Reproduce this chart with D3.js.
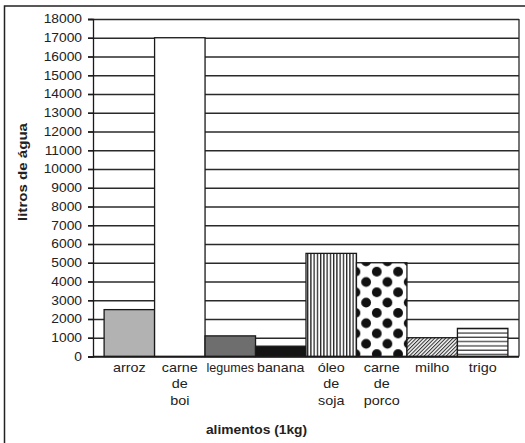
<!DOCTYPE html>
<html>
<head>
<meta charset="utf-8">
<script src="https://cdn.jsdelivr.net/npm/d3@7/dist/d3.min.js"></script>
<style>
  html, body { margin: 0; padding: 0; background: #fff; }
  svg { display: block; }
  text { font-family: "Liberation Sans", Arial, sans-serif; fill: #222; }
</style>
</head>
<body>
<svg id="chart" width="525" height="443"></svg>
<script>
// ---- data ----
const categories = ["arroz", "carne de boi", "legumes", "banana", "óleo de soja", "carne de porco", "milho", "trigo"];
const labelLines = [["arroz"], ["carne", "de", "boi"], ["legumes"], ["banana"], ["óleo", "de", "soja"], ["carne", "de", "porco"], ["milho"], ["trigo"]];
const values = [2500, 17000, 1100, 550, 5500, 5000, 1000, 1500];
const yTicks = [0, 1000, 2000, 3000, 4000, 5000, 6000, 7000, 8000, 9000, 10000, 11000, 12000, 13000, 14000, 15000, 16000, 17000, 18000];
const yTitle = "litros de água";
const xTitle = "alimentos (1kg)";

// ---- styles ----
const fills = ["#b2b2b2", "#ffffff", "#6e6e6e", "#141414", "url(#pVert)", "url(#pDots)", "url(#pDiag)", "url(#pHoriz)"];
const SX = 1.15; // horizontal text stretch

const svg = d3.select("#chart");
const pLeft = 93, pRight = 519, pTop = 19, pBottom = 356.5;

const x = d3.scaleBand().domain(categories).range([pLeft, pRight]).paddingInner(0).paddingOuter(0.22);
const y = d3.scaleLinear().domain([0, 18000]).range([pBottom, pTop]);

// ---- patterns ----
const defs = svg.append("defs");
// vertical stripes
const pv = defs.append("pattern").attr("id", "pVert").attr("patternUnits", "userSpaceOnUse")
  .attr("width", 3.25).attr("height", 10).attr("x", x("óleo de soja") + 1);
pv.append("rect").attr("width", 3.25).attr("height", 10).attr("fill", "#fff");
pv.append("rect").attr("x", 0).attr("width", 1.3).attr("height", 10).attr("fill", "#222");
// dots
const dx = 21.3, dyy = 20.6;
const pd = defs.append("pattern").attr("id", "pDots").attr("patternUnits", "userSpaceOnUse")
  .attr("width", dx).attr("height", dyy).attr("x", x("carne de porco") - 1).attr("y", 271.7);
pd.append("rect").attr("width", dx).attr("height", dyy).attr("fill", "#fff");
[[0, 0], [dx, 0], [0, dyy], [dx, dyy], [dx / 2, dyy / 2]].forEach(([cx, cy]) => {
  pd.append("circle").attr("cx", cx).attr("cy", cy).attr("r", 4.9).attr("fill", "#111");
});
// diagonal hatch
const pg = defs.append("pattern").attr("id", "pDiag").attr("patternUnits", "userSpaceOnUse")
  .attr("width", 2.6).attr("height", 10).attr("patternTransform", "rotate(45)");
pg.append("rect").attr("width", 2.6).attr("height", 10).attr("fill", "#f2f2f2");
pg.append("rect").attr("width", 1).attr("height", 10).attr("fill", "#2e2e2e");
// horizontal stripes
const ph = defs.append("pattern").attr("id", "pHoriz").attr("patternUnits", "userSpaceOnUse")
  .attr("width", 10).attr("height", 4.3).attr("y", y(values[7]) + 1);
ph.append("rect").attr("width", 10).attr("height", 4.3).attr("fill", "#fff");
ph.append("rect").attr("y", 3).attr("width", 10).attr("height", 1.3).attr("fill", "#444");

// ---- outer frame ----
svg.append("rect").attr("x", 4.5).attr("y", 6).attr("width", 700).attr("height", 700)
  .attr("fill", "none").attr("stroke", "#222").attr("stroke-width", 1.5);

// ---- gridlines ----
const grid = svg.append("g").attr("transform", `translate(${pLeft - 5},0)`)
  .call(d3.axisLeft(y).tickValues(yTicks).tickSize(-(pRight - pLeft + 5)).tickFormat(""));
grid.select(".domain").remove();
grid.selectAll(".tick line").attr("stroke", "#2a2a2a").attr("stroke-width", 1.3);

// ---- bars ----
svg.append("g").selectAll("rect").data(categories).join("rect")
  .attr("x", d => x(d))
  .attr("y", (d, i) => y(values[i]))
  .attr("width", x.bandwidth())
  .attr("height", (d, i) => y(0) - y(values[i]))
  .attr("fill", (d, i) => fills[i])
  .attr("stroke", "#1a1a1a").attr("stroke-width", 1.3);

// ---- plot frame (right edge, baseline) ----
svg.append("line").attr("x1", pRight).attr("x2", pRight).attr("y1", pTop).attr("y2", pBottom)
  .attr("stroke", "#2a2a2a").attr("stroke-width", 1.3);
svg.append("line").attr("x1", pLeft).attr("x2", pRight).attr("y1", pBottom).attr("y2", pBottom)
  .attr("stroke", "#1a1a1a").attr("stroke-width", 1.3);

// ---- y axis ----
const yAxis = svg.append("g").attr("transform", `translate(${pLeft},0)`)
  .call(d3.axisLeft(y).tickValues(yTicks).tickSize(5).tickPadding(6).tickFormat(d3.format("d")));
yAxis.select(".domain").attr("stroke", "#1a1a1a").attr("stroke-width", 1.3);
yAxis.selectAll(".tick line").attr("stroke", "#1a1a1a").attr("stroke-width", 1.3);
yAxis.selectAll(".tick text")
  .attr("font-size", 12).attr("font-family", "'Liberation Sans', Arial, sans-serif").attr("fill", "#222")
  .attr("x", -11 / SX).attr("transform", `scale(${SX},1)`);

// ---- x labels ----
const maxW = (x.bandwidth() - 3) / SX;
const xl = svg.append("g").selectAll("text").data(categories).join("text")
  .attr("transform", d => `translate(${x(d) + x.bandwidth() / 2},372) scale(${SX},1)`)
  .attr("text-anchor", "middle").attr("font-size", 12.5);
xl.each(function (d, i) {
  const t = d3.select(this);
  labelLines[i].forEach((line, j) => {
    const ts = t.append("tspan").attr("x", 0).attr("dy", j === 0 ? 0 : 16.5).text(line);
    if (ts.node().getComputedTextLength() > maxW) {
      ts.attr("textLength", maxW).attr("lengthAdjust", "spacingAndGlyphs");
    }
  });
});

// ---- titles ----
svg.append("text")
  .attr("transform", `translate(256.5,434) scale(${SX},1)`)
  .attr("text-anchor", "middle").attr("font-size", 12).attr("font-weight", "bold")
  .text(xTitle);
svg.append("text")
  .attr("transform", "translate(27,172) rotate(-90)")
  .attr("text-anchor", "middle").attr("font-size", 13).attr("font-weight", "bold")
  .attr("textLength", 98).attr("lengthAdjust", "spacingAndGlyphs")
  .text(yTitle);
</script>
</body>
</html>
